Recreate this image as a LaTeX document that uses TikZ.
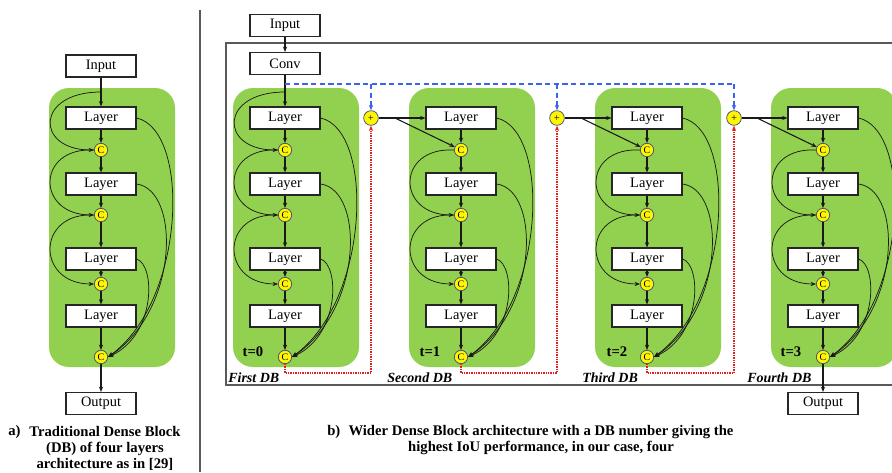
\documentclass[tikz,border=0pt]{standalone}
\usepackage{fontspec}
\setmainfont{Liberation Serif}
\usetikzlibrary{arrows.meta}
\definecolor{dbgreen}{RGB}{146,208,80}
\definecolor{cyel}{RGB}{255,245,0}
\definecolor{cborder}{RGB}{70,90,120}
\definecolor{dashblue}{RGB}{60,100,235}
\definecolor{dotred}{RGB}{230,30,30}
\tikzset{
  box/.style={draw=black!85, line width=0.9pt, fill=white, minimum width=52.5pt, minimum height=16.5pt, inner sep=0pt, font=\fontsize{10.8}{12}\selectfont},
  cnode/.style={circle, draw=cborder, line width=0.6pt, fill=cyel, minimum size=10pt, inner sep=0pt, font=\fontsize{7.5}{8}\selectfont},
  pnode/.style={circle, draw=cborder, line width=0.6pt, fill=cyel, minimum size=11pt, inner sep=0pt, font=\fontsize{8}{8}\selectfont},
  arr/.style={draw=black!90, line width=0.8pt, -{Stealth[length=4pt,width=3.2pt]}},
  carr/.style={draw=black!90, line width=0.55pt, -{Stealth[length=4pt,width=3.2pt]}},
  frame/.style={draw=black!65, line width=1pt},
  bluedash/.style={draw=dashblue, line width=1pt, dash pattern=on 4pt off 2.5pt},
  reddot/.style={draw=dotred, line width=0.9pt, dash pattern=on 1pt off 0.8pt},
  tlab/.style={font=\fontsize{11}{12}\selectfont\bfseries, inner sep=0pt},
  dblab/.style={font=\fontsize{10.5}{12}\selectfont\bfseries\itshape, inner sep=0pt, anchor=west},
  capt/.style={font=\fontsize{11}{12}\selectfont\bfseries, inner sep=0pt, align=center},
}
\newcommand{\DBlk}[2]{%
  \fill[dbgreen, rounded corners=15pt] (#2-52,88) rectangle (#2+74,367);
  \node[box] (#1l1) at (#2,118) {Layer};
  \node[box] (#1l2) at (#2,184) {Layer};
  \node[box] (#1l3) at (#2,259) {Layer};
  \node[box] (#1l4) at (#2,316) {Layer};
  \node[cnode] (#1c1) at (#2,150) {C};
  \node[cnode] (#1c2) at (#2,215) {C};
  \node[cnode] (#1c3) at (#2,284) {C};
  \node[cnode] (#1c4) at (#2,357) {C};
  \draw[arr] (#1l1) -- (#1c1);
  \draw[arr] (#1c1) -- (#1l2);
  \draw[arr] (#1l2) -- (#1c2);
  \draw[arr] (#1c2) -- (#1l3);
  \draw[arr] (#1l3) -- (#1c3);
  \draw[arr] (#1c3) -- (#1l4);
  \draw[arr] (#1l4) -- (#1c4);
  \draw[carr] (#1c1.west) .. controls +(-58,-3) and +(-58,0) .. (#1c2.west);
  \draw[carr] (#1c2.west) .. controls +(-58,-3) and +(-58,0) .. (#1c3.west);
  \draw[carr] (#1l1.east) .. controls +(54,12) and +(78,-57) .. (#1c4.east);
  \draw[carr] (#1l2.east) .. controls +(44,6) and +(71,-47) .. (#1c4.east);
  \draw[carr] (#1l3.east) .. controls +(19,6) and +(48,-22) .. (#1c4.east);
}
\begin{document}
\begin{tikzpicture}[x=0.75pt,y=-0.75pt]
\useasboundingbox (0,0) rectangle (892,472);
\fill[white] (0,0) rectangle (892,472);

% ---------- panel a ----------
\DBlk{a}{101}
\node[box] (ain) at (101,66) {Input};
\node[box] (aout) at (101,403.5) {Output};
\draw[arr] (ain) -- (al1);
\draw[arr] (ac4) -- (aout);
\coordinate (atop) at (101,92);
\draw[carr] (atop) .. controls (35,92) and (35,150) .. (ac1.west);
\node[capt, anchor=west] (acapl) at (8,432) {a)};
\node[capt] (acap) at (105,448) {Traditional Dense Block\\(DB) of four layers\\architecture as in [29]};

\draw[frame] (200,10) -- (200,472);

% ---------- panel b ----------
\draw[frame] (900,43) -- (226,43) -- (226,385) -- (900,385);
\DBlk{b}{285}
\DBlk{c}{461}
\DBlk{d}{647}
\DBlk{e}{823}
\node[box] (bin) at (285,25.5) {Input};
\node[box] (bconv) at (285,63.5) {Conv};
\node[box] (bout) at (823,403.5) {Output};
\draw[arr] (bin) -- (bconv);
\draw[arr] (bconv) -- (bl1);
\draw[arr] (ec4) -- (bout);
\coordinate (btop) at (285,92);
\draw[carr] (btop) .. controls (219,92) and (219,150) .. (bc1.west);

\node[pnode] (p1) at (371,118) {+};
\node[pnode] (p2) at (557,118) {+};
\node[pnode] (p3) at (734,118) {+};

% blue skip from Conv
\coordinate (bs) at (285,84);
\coordinate (be) at (734,84);
\draw[bluedash] (bs) -- (be);
\draw[bluedash, -{Stealth[length=4pt,width=3.2pt]}] (p1 |- bs) -- (p1);
\draw[bluedash, -{Stealth[length=4pt,width=3.2pt]}] (p2 |- bs) -- (p2);
\draw[bluedash, -{Stealth[length=4pt,width=3.2pt]}] (p3 |- bs) -- (p3);

% red dotted feedback
\draw[reddot, -{Stealth[length=4pt,width=3.2pt]}] (bc4) -- ++(0,16) -| (p1);
\draw[reddot, -{Stealth[length=4pt,width=3.2pt]}] (cc4) -- ++(0,16) -| (p2);
\draw[reddot, -{Stealth[length=4pt,width=3.2pt]}] (dc4) -- ++(0,16) -| (p3);

% plus -> next block
\coordinate (br1) at (395,118);
\coordinate (br2) at (581,118);
\coordinate (br3) at (757,118);
\draw[arr] (p1) -- (cl1);
\draw[arr] (p2) -- (dl1);
\draw[arr] (p3) -- (el1);
\draw[arr] (br1) -- (cc1);
\draw[arr] (br2) -- (dc1);
\draw[arr] (br3) -- (ec1);

% labels
\node[tlab] (t0) at (253,352) {t=0};
\node[tlab] (t1) at (430,352) {t=1};
\node[tlab] (t2) at (617,352) {t=2};
\node[tlab] (t3) at (791,352) {t=3};
\node[dblab] (db1) at (228,378) {First DB};
\node[dblab] (db2) at (387,378) {Second DB};
\node[dblab] (db3) at (582,378) {Third DB};
\node[dblab] (db4) at (747,378) {Fourth DB};

\node[capt, anchor=west] (bcapl) at (327,432) {b)};
\node[capt] (bcap) at (541,440) {Wider Dense Block architecture with a DB number giving the\\highest IoU performance, in our case, four};
\end{tikzpicture}
\end{document}
